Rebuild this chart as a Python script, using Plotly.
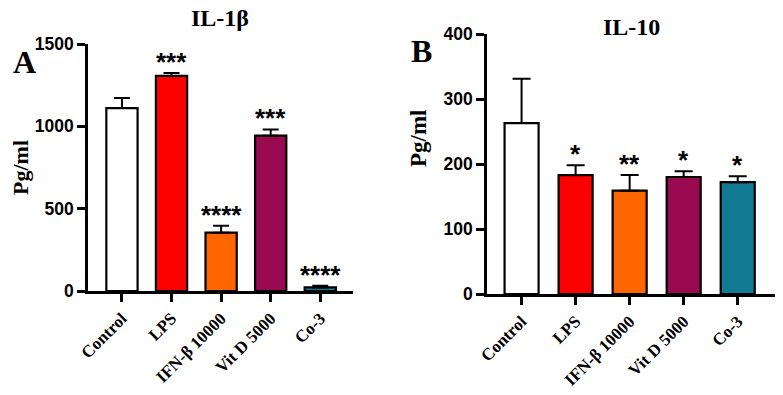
import plotly.graph_objects as go

categories = ["Control", "LPS", "IFN-β 10000", "Vit D 5000", "Co-3"]
colors = ["#FFFFFF", "#FF0000", "#FF6600", "#990A50", "#137A93"]

il1b_mean = [1111, 1306, 354, 943, 22]
il1b_err = [61, 18, 43, 38, 10]
il1b_stars = ["", "***", "****", "***", "****"]

il10_mean = [263, 183, 159, 180, 172]
il10_err = [68, 15, 24, 9, 9]
il10_stars = ["", "*", "**", "*", "*"]

W, H = 783, 395
def px_x(p): return p / W
def px_y(p): return 1 - p / H

fig = go.Figure()
xs = list(range(len(categories)))

fig.add_trace(go.Bar(
    x=xs, y=il1b_mean, width=0.63,
    marker=dict(color=colors, line=dict(color="black", width=2.2)),
    error_y=dict(type="data", array=il1b_err, arrayminus=[0]*5, symmetric=False,
                 color="black", thickness=2, width=8),
    xaxis="x", yaxis="y", showlegend=False))

fig.add_trace(go.Bar(
    x=xs, y=il10_mean, width=0.63,
    marker=dict(color=colors, line=dict(color="black", width=2.2)),
    error_y=dict(type="data", array=il10_err, arrayminus=[0]*5, symmetric=False,
                 color="black", thickness=2, width=9),
    xaxis="x2", yaxis="y2", showlegend=False))

catfont = dict(family="Liberation Serif, Times New Roman, serif", size=17, color="black", weight="bold")
numfont = dict(family="Liberation Sans, Arial, sans-serif", size=17.5, color="black", weight="bold")

axis_common = dict(showgrid=False, zeroline=False, showline=True, linecolor="black",
                   linewidth=2.5, ticks="outside", ticklen=8, tickwidth=2.5, tickcolor="black",
                   automargin=False)

fig.update_layout(
    template="none",
    width=W, height=H, margin=dict(l=0, r=0, t=0, b=0, pad=0, autoexpand=False),
    paper_bgcolor="white", plot_bgcolor="white",
    xaxis=dict(domain=[px_x(88), px_x(353)], range=[-0.685, 4.66],
               tickmode="array", tickvals=xs, ticktext=categories, tickangle=-45,
               tickfont=catfont, anchor="y", **axis_common),
    yaxis=dict(domain=[px_y(291), px_y(44)], range=[0, 1500],
               tickmode="array", tickvals=[0, 500, 1000, 1500],
               tickfont=numfont, anchor="x", **axis_common),
    xaxis2=dict(domain=[px_x(487), px_x(775)], range=[-0.64, 4.69],
                tickmode="array", tickvals=xs, ticktext=categories, tickangle=-45,
                tickfont=catfont, anchor="y2", **axis_common),
    yaxis2=dict(domain=[px_y(294), px_y(34)], range=[0, 400],
                tickmode="array", tickvals=[0, 100, 200, 300, 400],
                tickfont=numfont, anchor="x2", **axis_common),
)

starfont = dict(family="Liberation Sans, Arial, sans-serif", size=26, color="black", weight="bold")
annotations = []
for i, s in enumerate(il1b_stars):
    if s:
        annotations.append(dict(x=i, y=il1b_mean[i] + il1b_err[i], xref="x", yref="y",
                                text=s, showarrow=False, font=starfont,
                                xanchor="center", yanchor="bottom", yshift=-6))
for i, s in enumerate(il10_stars):
    if s:
        annotations.append(dict(x=i, y=il10_mean[i] + il10_err[i], xref="x2", yref="y2",
                                text=s, showarrow=False, font=starfont,
                                xanchor="center", yanchor="bottom", yshift=-6))

serif_bold = "Liberation Serif, Times New Roman, serif"
def lab(x, y, text, size, angle=0):
    return dict(x=px_x(x), y=px_y(y), xref="paper", yref="paper", text=text, showarrow=False,
                xanchor="center", yanchor="middle", textangle=angle,
                font=dict(family=serif_bold, size=size, color="black", weight="bold"))

annotations += [
    lab(220, 18, "IL-1β", 24),
    lab(631, 27, "IL-10", 24),
    lab(24, 62, "A", 32),
    lab(422, 51, "B", 32),
    lab(20, 168, "Pg/ml", 22, -90),
    lab(418, 138, "Pg/ml", 23, -90),
]
fig.update_layout(annotations=annotations)

fig.write_html("out.html")
